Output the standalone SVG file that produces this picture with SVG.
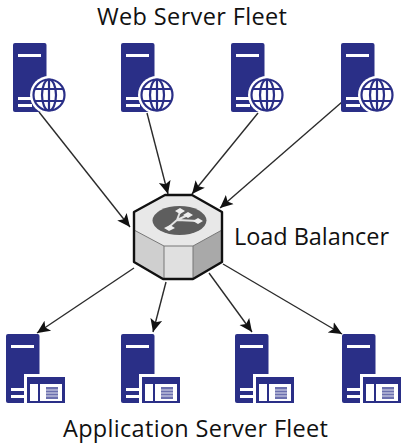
<svg xmlns="http://www.w3.org/2000/svg" width="409" height="447" viewBox="0 0 409 447">
<style>
.t{font-family:"Open Sans","Liberation Sans",sans-serif;font-size:23.5px;fill:#111}
.c{stroke:#2b2b2b;stroke-width:1.4;fill:none;marker-end:url(#a)}
.b{fill:#2a2f87}
.w{fill:#fff}
.g{fill:none;stroke:#2a2f87;stroke-width:2.2}
.h{stroke:#111;stroke-width:2.4;stroke-linejoin:round}
.e{stroke:#777;stroke-width:1;fill:none}
</style>
<defs>
<marker id="a" markerUnits="userSpaceOnUse" markerWidth="15" markerHeight="14" refX="13" refY="7" orient="auto"><path d="M0 1L13 7L0 13L3 7Z" fill="#111"/></marker>
<g id="srv"><rect class="b" x="0" y="0" width="33.500" height="69" rx="2"/><rect class="w" x="5" y="11" width="23" height="3"/><rect class="w" x="5" y="54" width="14" height="3"/><rect class="w" x="5" y="61" width="14" height="3"/></g>
<g id="glb"><circle class="w" r="19"/><circle class="g" r="15.500"/><ellipse class="g" rx="7" ry="15.500"/><path class="g" d="M0-15.500V15.500M-14-6H14M-14 6H14"/></g>
<g id="win"><rect class="w" x="-3" y="-3" width="44" height="34"/><rect class="b" x="0" y="0" width="38" height="26"/><rect class="w" x="3" y="7" width="8" height="17"/><rect class="w" x="13" y="7" width="22" height="17"/><rect x="19" y="10" width="12" height="12" fill="#6c70ae"/><path d="M19 13H31M19 16H31M19 19H31" stroke="#fff" stroke-width=".8"/></g>
</defs>
<g id="connectors">
<path class="c" d="M39 112L130 227"/><path class="c" d="M147 113L168 194"/><path class="c" d="M258 113L192 194"/><path class="c" d="M342 102L220 208"/>
<path class="c" d="M134 268L37 333"/><path class="c" d="M166 282L153 332"/><path class="c" d="M209 273L252 332"/><path class="c" d="M223 264L342 334"/>
</g>
<g id="title-web"><text class="t" x="97" y="25" textLength="190">Web Server Fleet</text></g>
<g id="web1"><use href="#srv" x="13" y="43"/><use href="#glb" x="49" y="95"/></g>
<g id="web2"><use href="#srv" x="121" y="43"/><use href="#glb" x="157" y="95"/></g>
<g id="web3"><use href="#srv" x="231" y="43"/><use href="#glb" x="267" y="95"/></g>
<g id="web4"><use href="#srv" x="341" y="43"/><use href="#glb" x="377" y="95"/></g>
<g id="lb">
<path fill="#e8e8e8" d="M134 212L165 195H192L222 212V230L193 246H164L134 230Z"/>
<path d="M134 230L164 246V279L134 262Z" fill="#cfcfcf"/><path d="M164 246H193V279H164Z" fill="#e0e0e0"/><path d="M193 246L222 230V262L193 279Z" fill="#a9a9a9"/>
<path class="e" d="M134 230L164 246V279M164 246H193V279M193 246L222 230"/>
<path class="h" fill="none" d="M134 212L165 195H192L222 212V262L193 279H163L134 262Z"/>
<ellipse cx="179.500" cy="220.500" rx="27" ry="14.500" fill="#5e5e5e"/>
<path d="M169 227L177 220L180 212M177 220L188 215M177 220L198 221" stroke="#e4e4e4" stroke-width="2" fill="none"/>
<path d="M164 228l6-3 5 3-6 3zM175 211l5-3 5 3-5 3zM183 215l5-3 5 3-5 3zM193 221l5-3 5 3-5 3z" fill="#eee"/>
</g>
<g id="label-lb"><text class="t" x="234" y="245" textLength="155">Load Balancer</text></g>
<g id="app1"><use href="#srv" x="6" y="334"/><use href="#win" x="27" y="377"/></g>
<g id="app2"><use href="#srv" x="121" y="334"/><use href="#win" x="142" y="377"/></g>
<g id="app3"><use href="#srv" x="235" y="334"/><use href="#win" x="256" y="377"/></g>
<g id="app4"><use href="#srv" x="342" y="334"/><use href="#win" x="363" y="377"/></g>
<g id="title-app"><text class="t" x="63" y="437" textLength="265">Application Server Fleet</text></g>
</svg>
